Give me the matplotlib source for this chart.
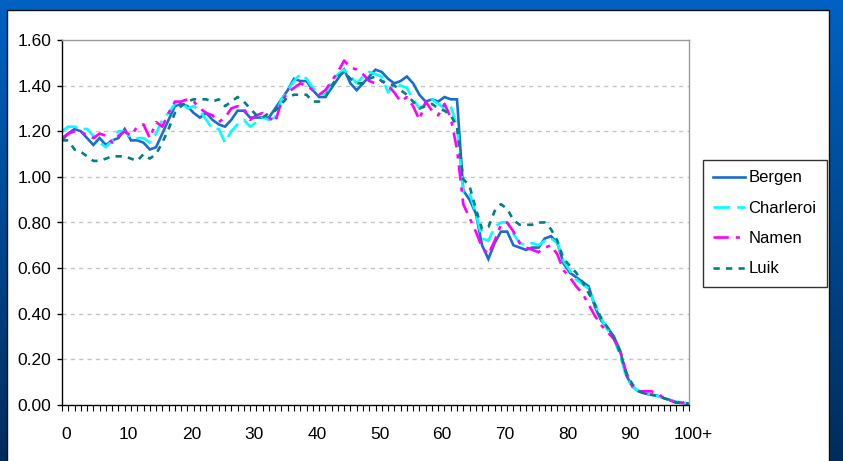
import numpy as np
import matplotlib
matplotlib.use("Agg")
import matplotlib.pyplot as plt
import matplotlib.font_manager as fm
import matplotlib.transforms as mtransforms
from matplotlib.patches import Rectangle

# ---------------- data ----------------
ages = list(range(101))
tick_positions = [0, 10, 20, 30, 40, 50, 60, 70, 80, 90, 100]
tick_labels = ["0", "10", "20", "30", "40", "50", "60", "70", "80", "90", "100+"]
y_ticks = [0.0, 0.2, 0.4, 0.6, 0.8, 1.0, 1.2, 1.4, 1.6]

bergen = [1.16, 1.19, 1.21, 1.20, 1.17, 1.14, 1.17, 1.14, 1.16, 1.17,
          1.21, 1.16, 1.16, 1.15, 1.12, 1.13, 1.19, 1.25, 1.31, 1.32,
          1.31, 1.28, 1.26, 1.28, 1.25, 1.23, 1.22, 1.25, 1.29, 1.29,
          1.26, 1.26, 1.26, 1.26, 1.30, 1.34, 1.38, 1.43, 1.42, 1.42,
          1.38, 1.35, 1.35, 1.39, 1.43, 1.47, 1.41, 1.38, 1.41, 1.44,
          1.47, 1.46, 1.43, 1.41, 1.42, 1.44, 1.41, 1.36, 1.33, 1.34,
          1.33, 1.35, 1.34, 1.34, 0.94, 0.90, 0.84, 0.70, 0.64, 0.71,
          0.76, 0.76, 0.70, 0.69, 0.68, 0.69, 0.69, 0.73, 0.74, 0.71,
          0.62, 0.58, 0.56, 0.54, 0.52, 0.43, 0.37, 0.34, 0.30, 0.24,
          0.13, 0.08, 0.06, 0.05, 0.045, 0.04, 0.03, 0.022, 0.012, 0.008,
          0.005]

charleroi = [1.20, 1.22, 1.22, 1.21, 1.21, 1.18, 1.15, 1.13, 1.16, 1.20,
             1.20, 1.17, 1.17, 1.17, 1.15, 1.19, 1.25, 1.28, 1.32, 1.33,
             1.30, 1.31, 1.29, 1.25, 1.21, 1.21, 1.15, 1.20, 1.23, 1.25,
             1.22, 1.24, 1.26, 1.25, 1.26, 1.34, 1.38, 1.42, 1.45, 1.43,
             1.39, 1.37, 1.36, 1.42, 1.45, 1.47, 1.44, 1.41, 1.44, 1.46,
             1.45, 1.44, 1.37, 1.41, 1.40, 1.39, 1.34, 1.30, 1.32, 1.34,
             1.32, 1.30, 1.31, 1.22, 0.93, 0.93, 0.84, 0.73, 0.72, 0.78,
             0.80, 0.80, 0.75, 0.71, 0.70, 0.71, 0.70, 0.72, 0.73, 0.71,
             0.63, 0.59, 0.55, 0.53, 0.51, 0.44, 0.38, 0.33, 0.29, 0.22,
             0.12, 0.08, 0.06, 0.05, 0.045, 0.04, 0.03, 0.02, 0.015, 0.01,
             0.008]

namen = [1.17, 1.19, 1.20, 1.20, 1.18, 1.17, 1.19, 1.18, 1.15, 1.18,
         1.20, 1.18, 1.22, 1.23, 1.17, 1.24, 1.22, 1.28, 1.33, 1.33,
         1.34, 1.33, 1.30, 1.28, 1.27, 1.24, 1.26, 1.30, 1.31, 1.30,
         1.25, 1.27, 1.28, 1.26, 1.24, 1.33, 1.37, 1.39, 1.41, 1.40,
         1.38, 1.36, 1.38, 1.42, 1.46, 1.51, 1.48, 1.47, 1.45, 1.42,
         1.41, 1.42, 1.40, 1.37, 1.33, 1.35, 1.31, 1.25, 1.33, 1.29,
         1.27, 1.32, 1.26, 1.12, 0.88, 0.82, 0.76, 0.69, 0.66, 0.72,
         0.79, 0.80, 0.76, 0.71, 0.69, 0.68, 0.67, 0.69, 0.70, 0.66,
         0.59, 0.56, 0.52, 0.49, 0.44, 0.39, 0.35, 0.32, 0.29, 0.24,
         0.14, 0.08, 0.06, 0.06, 0.06, 0.05, 0.03, 0.02, 0.01, 0.01,
         0.01]

luik = [1.16, 1.16, 1.12, 1.11, 1.09, 1.07, 1.07, 1.08, 1.09, 1.09,
        1.09, 1.08, 1.07, 1.10, 1.08, 1.10, 1.15, 1.21, 1.28, 1.31,
        1.33, 1.34, 1.34, 1.34, 1.33, 1.34, 1.31, 1.33, 1.35, 1.33,
        1.30, 1.27, 1.26, 1.28, 1.29, 1.32, 1.35, 1.36, 1.36, 1.36,
        1.33, 1.33, 1.35, 1.40, 1.44, 1.46, 1.43, 1.41, 1.41, 1.43,
        1.44, 1.42, 1.41, 1.40, 1.38, 1.36, 1.33, 1.30, 1.31, 1.32,
        1.30, 1.29, 1.27, 1.22, 0.99, 0.96, 0.86, 0.77, 0.78, 0.85,
        0.88, 0.86, 0.81, 0.79, 0.79, 0.79, 0.80, 0.80, 0.77, 0.72,
        0.64, 0.61, 0.58, 0.54, 0.49, 0.44, 0.38, 0.34, 0.30, 0.23,
        0.14, 0.09, 0.06, 0.05, 0.045, 0.04, 0.03, 0.02, 0.01, 0.01,
        0.005]

series_names = ["Bergen", "Charleroi", "Namen", "Luik"]

# ---------------- style ----------------
names = {f.name for f in fm.fontManager.ttflist}
font = "Liberation Sans Narrow" if "Liberation Sans Narrow" in names else "Liberation Sans"
plt.rcParams["font.family"] = [font, "DejaVu Sans"]
plt.rcParams["lines.scale_dashes"] = False

W, H = 843, 461
fig = plt.figure(figsize=(W / 100, H / 100), dpi=100)

# blue gradient background
bg = fig.add_axes([0, 0, 1, 1], zorder=0)
top = np.array([0, 98, 196]) / 255
bot = np.array([0, 44, 92]) / 255
t = np.linspace(0, 1, 256)[:, None]
grad = (top[None, :] * (1 - t) + bot[None, :] * t)[:, None, :]
bg.imshow(np.repeat(grad, 4, axis=1), aspect="auto", extent=[0, 1, 0, 1])
bg.set_xlim(0, 1)
bg.set_ylim(0, 1)
bg.axis("off")

# white panel
panel = Rectangle((7 / W, -0.01), (829 - 7) / W, 1 - 10 / H + 0.01,
                  transform=fig.transFigure, facecolor="white",
                  edgecolor="#101010", linewidth=1.0, zorder=1)
fig.patches.append(panel)

ax = fig.add_axes([62 / W, 1 - 405 / H, (689 - 62) / W, (405 - 40) / H], zorder=2)
ax.set_facecolor("white")

styles = [
    dict(color="#1A6DD0", linestyle="-"),
    dict(color="#00FFFF", linestyle=(0, (12, 5))),
    dict(color="#FF00FF", linestyle=(0, (11, 5, 3, 5))),
    dict(color="#008080", linestyle=(0, (4.5, 4.5))),
]
for name, data, st in zip(series_names, [bergen, charleroi, namen, luik], styles):
    ax.plot(ages, data, label=name, linewidth=1.9, solid_joinstyle="miter",
            dash_capstyle="butt", **st)

ax.set_xlim(0, 100)
ax.set_ylim(0, 1.6)
ax.set_yticks(y_ticks)
ax.set_yticklabels([f"{v:.2f}" for v in y_ticks])
ax.set_xticks(tick_positions)
ax.set_xticklabels(tick_labels)
ax.set_xticks(ages, minor=True)

ax.tick_params(axis="y", direction="out", length=3.5, width=1, pad=4,
               labelsize=12.5, colors="black")
ax.tick_params(axis="x", which="both", direction="out", length=4, width=0.8,
               pad=12, labelsize=12.5, colors="black")

offset = mtransforms.ScaledTranslation(4 / 100, 0, fig.dpi_scale_trans)
for lbl in ax.get_xticklabels():
    lbl.set_transform(lbl.get_transform() + offset)

for sp in ["top", "right"]:
    ax.spines[sp].set_color("#9a9a9a")
    ax.spines[sp].set_linewidth(1.0)
for sp in ["left", "bottom"]:
    ax.spines[sp].set_color("black")
    ax.spines[sp].set_linewidth(1.0)

for v in y_ticks[1:-1]:
    ax.axhline(v, color="#c4c4c4", linewidth=1.0, linestyle=(0, (3, 3)), zorder=0.5)

leg = ax.legend(loc="upper left", bbox_to_anchor=(703 / W, 1 - 160 / H),
                bbox_transform=fig.transFigure, fontsize=12, frameon=True,
                fancybox=False, edgecolor="#333333", handlelength=1.9,
                handletextpad=0.2, labelspacing=0.92, borderpad=0.62,
                borderaxespad=0, framealpha=1)
leg.get_frame().set_linewidth(1.0)

fig.savefig("out.png", dpi=100)
